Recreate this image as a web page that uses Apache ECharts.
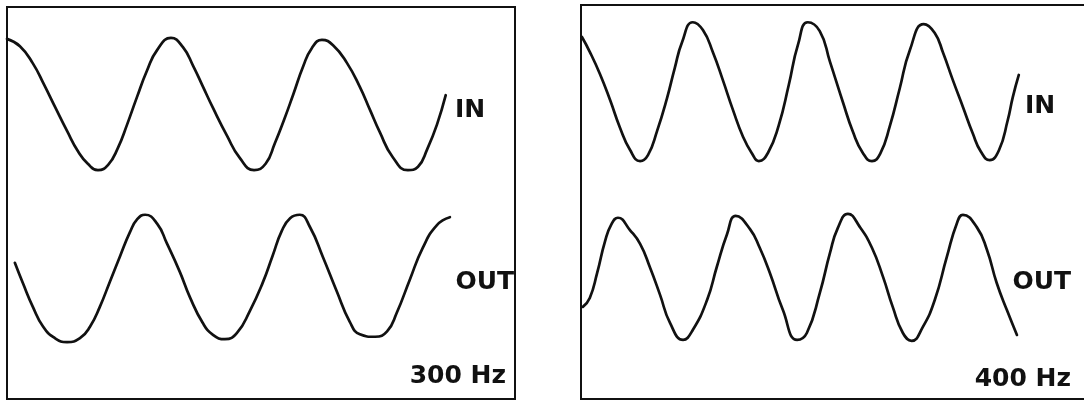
<!DOCTYPE html>
<html>
<head>
<meta charset="utf-8">
<script src="https://cdn.jsdelivr.net/npm/echarts@6/dist/echarts.min.js"></script>
<style>
  html, body { margin: 0; padding: 0; background: #fff; }
  #chart { width: 1084px; height: 401px; }
</style>
</head>
<body>
<div id="chart"></div>
<script>
// Oscilloscope traces: time in ms, amplitude in screen divisions (centre = 0)

// 300 Hz panel
const in300 = [
  [0.00, 3.35], [0.28, 3.20], [0.56, 2.85], [0.80, 2.42], [1.04, 1.96], [1.30, 1.47],
  [1.54, 1.05], [1.75, 0.80], [1.97, 0.67], [2.19, 0.78], [2.40, 1.12], [2.60, 1.60],
  [2.81, 2.15], [3.03, 2.70], [3.25, 3.12], [3.55, 3.37], [3.81, 3.18], [4.03, 2.80],
  [4.24, 2.38], [4.46, 1.94], [4.76, 1.38], [5.04, 0.92], [5.35, 0.67], [5.60, 0.80],
  [5.80, 1.22], [6.00, 1.70], [6.20, 2.22], [6.41, 2.78], [6.60, 3.16], [6.82, 3.33],
  [7.06, 3.22], [7.36, 2.86], [7.64, 2.37], [7.86, 1.90], [8.07, 1.45], [8.35, 0.94],
  [8.68, 0.67], [8.90, 0.74], [9.10, 1.10], [9.31, 1.60], [9.50, 2.20]
];
const out300 = [
  [0.17, -1.22], [0.35, -1.65], [0.56, -2.12], [0.78, -2.52], [1.04, -2.76], [1.30, -2.84],
  [1.58, -2.76], [1.80, -2.52], [2.01, -2.12], [2.23, -1.60], [2.45, -1.08], [2.66, -0.60],
  [2.82, -0.33], [2.99, -0.24], [3.25, -0.42], [3.46, -0.82], [3.74, -1.40], [3.96, -1.92],
  [4.24, -2.45], [4.46, -2.69], [4.72, -2.78], [4.98, -2.65], [5.26, -2.20], [5.54, -1.62],
  [5.75, -1.08], [5.95, -0.57], [6.13, -0.31], [6.34, -0.24], [6.56, -0.49], [6.84, -1.10],
  [7.14, -1.80], [7.42, -2.42], [7.64, -2.68], [7.97, -2.73], [8.23, -2.62], [8.44, -2.24],
  [8.72, -1.57], [9.00, -0.92], [9.31, -0.45], [9.59, -0.29]
];

// 400 Hz panel
const in400 = [
  [0.02, 3.35], [0.19, 3.05], [0.41, 2.60], [0.63, 2.07], [0.84, 1.52], [1.06, 1.06],
  [1.28, 0.83], [1.45, 0.95], [1.65, 1.45], [1.86, 2.10], [2.03, 2.72], [2.19, 3.25],
  [2.42, 3.65], [2.64, 3.49], [2.86, 3.03], [3.07, 2.48], [3.29, 1.87], [3.51, 1.32],
  [3.70, 0.99], [3.85, 0.83], [4.05, 1.00], [4.28, 1.55], [4.50, 2.38], [4.70, 3.20],
  [4.91, 3.65], [5.17, 3.47], [5.39, 2.85], [5.67, 2.03], [5.89, 1.42], [6.10, 1.00],
  [6.30, 0.83], [6.48, 0.98], [6.69, 1.55], [6.90, 2.30], [7.12, 3.08], [7.42, 3.61],
  [7.66, 3.43], [7.84, 3.03], [8.05, 2.48], [8.27, 1.93], [8.48, 1.40], [8.66, 1.02],
  [8.85, 0.85], [9.05, 1.05], [9.24, 1.66], [9.35, 2.13], [9.48, 2.58]
];
const out400 = [
  [0.04, -2.13], [0.19, -1.95], [0.35, -1.44], [0.52, -0.80], [0.66, -0.45], [0.80, -0.32],
  [1.06, -0.57], [1.28, -0.85], [1.49, -1.32], [1.71, -1.88], [1.93, -2.46], [2.21, -2.80],
  [2.42, -2.60], [2.73, -1.99], [2.94, -1.32], [3.16, -0.66], [3.35, -0.28], [3.66, -0.55],
  [3.87, -0.93], [4.09, -1.44], [4.37, -2.19], [4.68, -2.80], [4.89, -2.66], [5.17, -1.85],
  [5.39, -1.04], [5.56, -0.53], [5.78, -0.24], [6.04, -0.51], [6.30, -0.93], [6.54, -1.52],
  [6.75, -2.13], [6.97, -2.66], [7.16, -2.82], [7.40, -2.54], [7.66, -1.99], [7.92, -1.12],
  [8.14, -0.43], [8.27, -0.26], [8.57, -0.51], [8.79, -0.97], [9.00, -1.64], [9.22, -2.19],
  [9.44, -2.70]
];

const traceNames = ['IN', 'OUT'];
const freqLabels = ['300 Hz', '400 Hz'];

const chart = echarts.init(document.getElementById('chart'), null, { renderer: 'canvas' });

const ink = '#111';
const labelFont = 'bold 25px "DejaVu Sans", "Liberation Sans", sans-serif';

// Two scope screens; the second runs past the right edge of the page
const grids = [
  { left: 7, top: 7, width: 508, height: 392 },
  { left: 581, top: 5, width: 508, height: 394 }
].map(g => Object.assign({
  show: true, borderColor: ink, borderWidth: 2, backgroundColor: 'transparent',
  containLabel: false, outerBoundsMode: 'none'
}, g));

const xAxes = [0, 1].map(i => ({
  type: 'value', gridIndex: i, min: 0, max: 11, show: false
}));
const yAxes = [0, 1].map(i => ({
  type: 'value', gridIndex: i, min: -4, max: 4, show: false
}));

function trace(name, data, idx) {
  return {
    name: name, type: 'line', xAxisIndex: idx, yAxisIndex: idx,
    data: data, showSymbol: false, symbol: 'none', smooth: 0.5,
    lineStyle: { color: ink, width: 2.7, cap: 'round', join: 'round' },
    silent: true, animation: false, clip: false
  };
}

function label(text, x, y, align) {
  return {
    type: 'text', x: x, y: y, silent: true,
    style: { text: text, font: labelFont, fill: ink, align: align || 'left', verticalAlign: 'middle' }
  };
}

chart.setOption({
  animation: false,
  backgroundColor: '#fff',
  grid: grids,
  xAxis: xAxes,
  yAxis: yAxes,
  series: [
    trace(traceNames[0], in300, 0),
    trace(traceNames[1], out300, 0),
    trace(traceNames[0], in400, 1),
    trace(traceNames[1], out400, 1)
  ],
  graphic: [
    label(traceNames[0], 455, 110),
    label(traceNames[1], 514, 282, 'right'),
    label(freqLabels[0], 506, 376, 'right'),
    label(traceNames[0], 1025, 106),
    label(traceNames[1], 1071, 282, 'right'),
    label(freqLabels[1], 1071, 379, 'right')
  ]
});
</script>
</body>
</html>
